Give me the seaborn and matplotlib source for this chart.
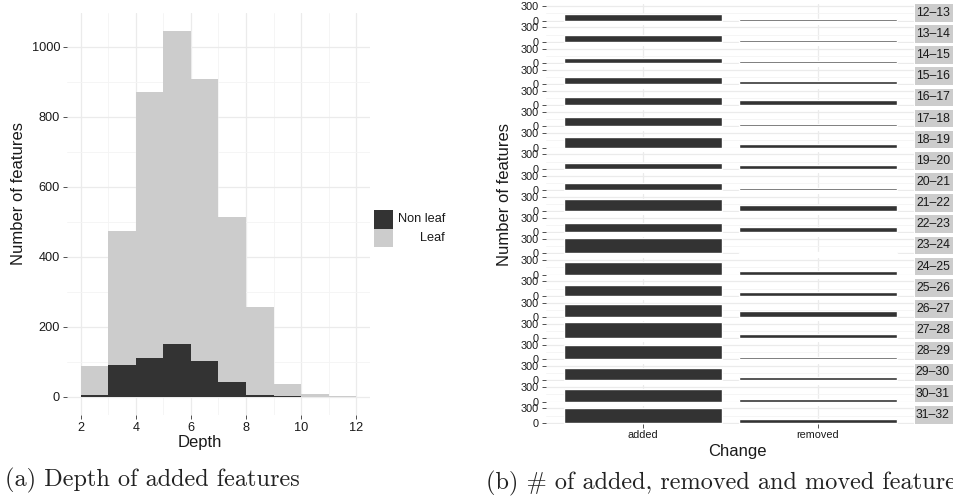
import numpy as np
import pandas as pd
import matplotlib
matplotlib.use("Agg")
import matplotlib.pyplot as plt
import seaborn as sns
from matplotlib.patches import Rectangle
from matplotlib.ticker import MultipleLocator, FixedLocator

# ---------------- data ----------------
depth_bins = [2, 3, 4, 5, 6, 7, 8, 9, 10, 11]
nonleaf_counts = [6, 92, 112, 152, 103, 43, 5, 2, 0, 0]
leaf_counts = [83, 382, 759, 894, 805, 470, 253, 35, 8, 1]

version_ranges = ["12–13", "13–14", "14–15", "15–16", "16–17", "17–18", "18–19",
                  "19–20", "20–21", "21–22", "22–23", "23–24", "24–25", "25–26",
                  "26–27", "27–28", "28–29", "29–30", "30–31", "31–32"]
added = [146, 146, 108, 152, 167, 200, 229, 130, 146, 245,
         200, 330, 264, 225, 260, 333, 298, 257, 257, 312]
removed = [45, 45, 45, 72, 111, 42, 70, 70, 42, 125,
           100, 40, 85, 80, 128, 90, 48, 76, 55, 76]
changes = ["added", "removed"]

# ---------------- style ----------------
W, H = 954, 504
sns.set_theme(style="white")
plt.rcParams["font.family"] = ["Liberation Sans", "DejaVu Sans"]
DARK, LIGHT = "#333333", "#CCCCCC"
GRID_MAJ, GRID_MIN = "#EBEBEB", "#F4F4F4"
TXT = "#1a1a1a"

fig = plt.figure(figsize=(W / 100, H / 100), dpi=100)
fig.patch.set_facecolor("white")


def px_axes(x0, y0, x1, y1):
    return fig.add_axes([x0 / W, 1 - y1 / H, (x1 - x0) / W, (y1 - y0) / H])


def style_axes(ax, labelsize):
    for s in ax.spines.values():
        s.set_visible(False)
    ax.set_facecolor("white")
    ax.tick_params(axis="both", which="major", length=3, width=0.6, color="#333333",
                   labelsize=labelsize, labelcolor=TXT, pad=2, bottom=True, left=True)
    ax.tick_params(axis="both", which="minor", length=0)
    ax.grid(True, which="major", color=GRID_MAJ, linewidth=0.9, zorder=0)
    ax.grid(True, which="minor", color=GRID_MIN, linewidth=0.6, zorder=0)
    ax.set_axisbelow(True)


# ---------------- left: histogram ----------------
axL = px_axes(67, 13, 370, 415)
df = pd.DataFrame({
    "depth": [d + 0.5 for d in depth_bins] * 2,
    "count": nonleaf_counts + leaf_counts,
    "type": ["Non leaf"] * len(depth_bins) + ["Leaf"] * len(depth_bins),
})
sns.histplot(data=df, x="depth", weights="count", hue="type",
             hue_order=["Leaf", "Non leaf"], multiple="stack",
             binwidth=1, binrange=(2, 12), palette={"Non leaf": DARK, "Leaf": LIGHT},
             linewidth=0, alpha=1, legend=False, ax=axL)
axL.set_xlim(1.5, 12.5)
axL.set_ylim(-52, 1097)
axL.xaxis.set_major_locator(FixedLocator([2, 4, 6, 8, 10, 12]))
axL.xaxis.set_minor_locator(FixedLocator([3, 5, 7, 9, 11]))
axL.yaxis.set_major_locator(FixedLocator([0, 200, 400, 600, 800, 1000]))
axL.yaxis.set_minor_locator(FixedLocator([100, 300, 500, 700, 900]))
style_axes(axL, 9.2)
axL.set_xlabel("Depth", fontsize=12, color=TXT)
axL.set_ylabel("Number of features", fontsize=12, color=TXT)
axL.xaxis.label.set_va("center")
axL.yaxis.label.set_va("center")
axL.xaxis.set_label_coords((200 - 67) / 303, -(443 - 415) / 402)
axL.yaxis.set_label_coords((18 - 67) / 303, (415 - 194) / 402)

# legend (manual, ggplot style with right-aligned labels)
for i, (lab, col) in enumerate([("Non leaf", DARK), ("Leaf", LIGHT)]):
    y0 = 210 + i * 18.5
    fig.add_artist(Rectangle((374 / W, 1 - (y0 + 18.5) / H), 19 / W, 18.5 / H,
                             transform=fig.transFigure, facecolor=col, edgecolor="none"))
    fig.text(445 / W, 1 - (y0 + 9.5) / H, lab, ha="right", va="center",
             fontsize=9.2, color=TXT)

# ---------------- right: faceted bars ----------------
period, top0, ph = 21.16, 3.9, 17.6
n = len(version_ranges)
for i, (rng, a, r) in enumerate(zip(version_ranges, added, removed)):
    y0 = top0 + i * period
    ax = px_axes(546, y0, 914, y0 + ph)
    sns.barplot(x=changes, y=[a, r], color=DARK, saturation=1, width=0.9, ax=ax)
    ax.set_xlim(-0.554, 1.55)
    ax.set_ylim(-16.7, 349.7)
    ax.yaxis.set_major_locator(FixedLocator([0, 300]))
    ax.yaxis.set_minor_locator(FixedLocator([150]))
    style_axes(ax, 7.8)
    ax.set_xlabel("")
    ax.set_ylabel("")
    if i < n - 1:
        ax.tick_params(axis="x", which="both", bottom=False, labelbottom=False)
    else:
        ax.set_xlabel("Change", fontsize=12, color=TXT)
        ax.xaxis.label.set_va("center")
        ax.xaxis.set_label_coords((737 - 546) / 368, -(451 - (y0 + ph)) / ph)
    # strip
    fig.add_artist(Rectangle((915 / W, 1 - (y0 + ph) / H), (W - 915) / W, ph / H,
                             transform=fig.transFigure, facecolor=LIGHT, edgecolor="none"))
    fig.text(933 / W, 1 - (y0 + ph / 2) / H, rng, ha="center", va="center",
             fontsize=8.8, color=TXT)

fig.text(505 / W, 1 - 194 / H, "Number of features", rotation=90,
         ha="center", va="center", fontsize=12, color=TXT)

# ---------------- captions ----------------
cap_font = ["cmr10", "DejaVu Serif"]
fig.text(5 / W, 1 - 480 / H, "(a) Depth of added features", family=cap_font,
         fontsize=17.5, ha="left", va="center", color="#222222")
fig.text(486 / W, 1 - 483 / H, "(b) # of added, removed and moved features",
         family=cap_font, fontsize=17.5, ha="left", va="center", color="#222222")

fig.savefig("out.png", dpi=100, facecolor="white")
